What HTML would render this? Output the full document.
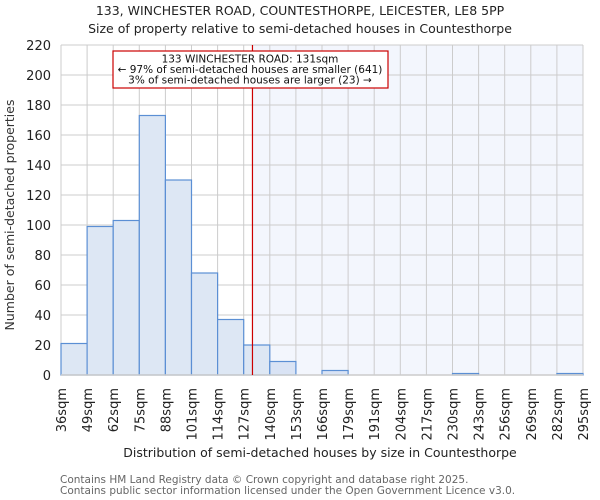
<!DOCTYPE html>
<html><head><meta charset="utf-8"><style>
body{margin:0;background:#fff;}
svg{display:block;font-family:"DejaVu Sans","Liberation Sans",sans-serif;}
</style></head><body>
<svg id="c" width="600" height="500" viewBox="0 0 600 500">
<text x="300" y="15" text-anchor="middle" font-size="12.5" fill="#222">133, WINCHESTER ROAD, COUNTESTHORPE, LEICESTER, LE8 5PP</text>
<text x="300" y="33" text-anchor="middle" font-size="12.5" fill="#222">Size of property relative to semi-detached houses in Countesthorpe</text>
<g id="plot"></g>
<text transform="translate(14,215) rotate(-90)" text-anchor="middle" font-size="12.5" fill="#333">Number of semi-detached properties</text>
<text x="320" y="457" text-anchor="middle" font-size="12.5" fill="#222">Distribution of semi-detached houses by size in Countesthorpe</text>
<text x="60" y="483" font-size="10.5" fill="#666">Contains HM Land Registry data © Crown copyright and database right 2025.</text>
<text x="60" y="494" font-size="10.5" fill="#666">Contains public sector information licensed under the Open Government Licence v3.0.</text>
</svg>
<script>
const binLabels=["36sqm","49sqm","62sqm","75sqm","88sqm","101sqm","114sqm","127sqm","140sqm","153sqm","166sqm","179sqm","191sqm","204sqm","217sqm","230sqm","243sqm","256sqm","269sqm","282sqm","295sqm"];
const counts=[21,99,103,173,130,68,37,20,9,0,3,0,0,0,0,1,0,0,0,1];
const yTicks=[0,20,40,60,80,100,120,140,160,180,200,220];
const binStart=36, binEnd=295, propertySize=131;
const L=61,R=583,T=45,B=375,yMax=220;
const NS="http://www.w3.org/2000/svg";
const g=document.getElementById('plot');
const xs=v=>L+(v-binStart)/(binEnd-binStart)*(R-L);
const ys=v=>B-v/yMax*(B-T);
const bw=(R-L)/counts.length;
function el(t,a){const e=document.createElementNS(NS,t);for(const k in a)e.setAttribute(k,a[k]);g.appendChild(e);return e;}
const px=xs(propertySize);
const shade=el('rect',{x:px,y:T,width:R-px,height:B-T,fill:'#f3f6fd'});


yTicks.forEach(v=>{
 const ln=el('line',{x1:L,x2:R,y1:ys(v),y2:ys(v),stroke:'#ccc','stroke-width':1});
 
 
 const t=el('text',{x:L-10,y:ys(v)+5,'text-anchor':'end','font-size':13,fill:'#222'});
 t.textContent=v;
 
 
});
binLabels.forEach((s,i)=>{
 const x=L+i*bw;
 const ln=el('line',{x1:x,x2:x,y1:T,y2:B,stroke:'#ccc','stroke-width':1});
 
 
 const t=el('text',{transform:`translate(${x+5},388) rotate(-90)`,'text-anchor':'end','font-size':13,fill:'#222'});
 t.textContent=s;
 
 
});
counts.forEach((c,i)=>{
 if(c<=0)return;
 const r=el('rect',{x:L+i*bw,y:ys(c),width:bw,height:B-ys(c),fill:(L+i*bw<px?'#dde7f4':'#d9e3f4'),stroke:'#5b8fd4','stroke-width':1.2});
 
 
});
const ax=el('line',{x1:L,x2:R,y1:B,y2:B,stroke:'#ccc','stroke-width':1.5});


const ml=el('line',{x1:px,x2:px,y1:T,y2:B,stroke:'#cc0000','stroke-width':1.2});


const box=el('rect',{x:113,y:51,width:275,height:37,fill:'#fff',stroke:'#cc0000','stroke-width':1.2});


["133 WINCHESTER ROAD: 131sqm","← 97% of semi-detached houses are smaller (641)","3% of semi-detached houses are larger (23) →"].forEach((s,i)=>{
 const t=el('text',{x:250,y:62.5+i*10.5,'text-anchor':'middle','font-size':10.5,fill:'#111'});
 t.textContent=s;
 
 
});
</script>
</body></html>
